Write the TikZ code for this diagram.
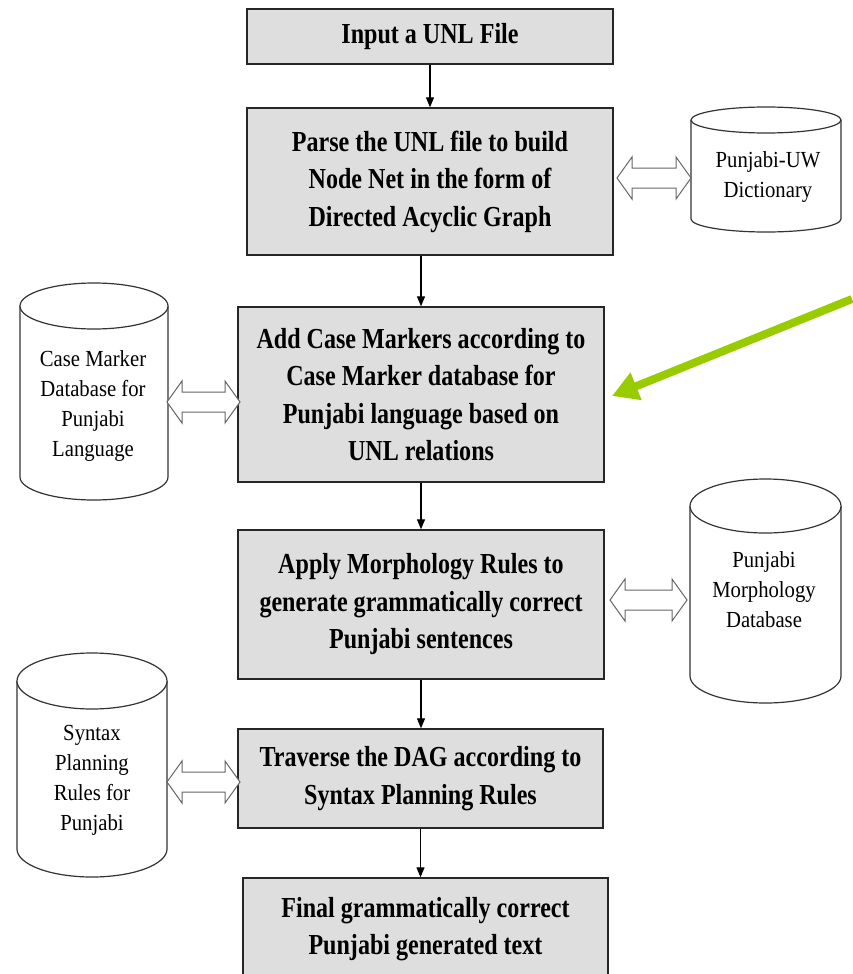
\documentclass[tikz,border=0pt]{standalone}
\usepackage{fontspec}
\setmainfont[FakeStretch=0.83]{Liberation Serif}
\newfontfamily\cylfont[FakeStretch=0.9]{Liberation Serif}
\usetikzlibrary{arrows.meta}
\definecolor{boxgray}{HTML}{DEDEDE}
\definecolor{hintgreen}{HTML}{99CC00}
\newcommand\dblarrow[3]{%
  \draw[dbarrow] (#1,#3) -- (#1+15,#3-21) -- (#1+15,#3-10) -- (#2-15,#3-10) -- (#2-15,#3-21)
    -- (#2,#3) -- (#2-15,#3+21) -- (#2-15,#3+10) -- (#1+15,#3+10) -- (#1+15,#3+21) -- cycle;}
\newcommand\dbcyl[5]{% cx top bottom rx ry
  \fill[white] (#1-#4,#2+#5) -- (#1-#4,#3-#5) arc[start angle=180,end angle=360,x radius=#4pt,y radius=#5pt] -- (#1+#4,#2+#5) -- cycle;
  \draw[cyl] (#1-#4,#2+#5) -- (#1-#4,#3-#5) arc[start angle=180,end angle=360,x radius=#4pt,y radius=#5pt] -- (#1+#4,#2+#5);
  \filldraw[cyl,fill=white] (#1,#2+#5) ellipse[x radius=#4pt,y radius=#5pt];}
\begin{document}
\begin{tikzpicture}[x=1pt,y=-1pt,
  procbox/.style={draw=black!85, line width=1.4pt, fill=boxgray, align=center, inner sep=0pt,
    font=\bfseries\fontsize{29}{37.5}\selectfont},
  flow/.style={-{Triangle[length=10pt,width=8pt]}, line width=1.2pt},
  dbarrow/.style={draw=black!60, line width=1pt, fill=white, line join=miter},
  cyl/.style={draw=black!80, line width=1.2pt},
  cyltext/.style={align=center, inner sep=0pt, font=\cylfont\fontsize{23}{30}\selectfont},
  hint/.style={draw=hintgreen, line width=8pt, -{Triangle[length=26pt,width=28pt]}}]
\useasboundingbox (0,0) rectangle (853,974);
\fill[white] (0,0) rectangle (853,974);

% process boxes
\node[procbox, minimum width=366, minimum height=55] (b1) at (430,36.5) {Input a UNL File};
\node[procbox, minimum width=366, minimum height=147] (b2) at (430,181.5)
  {Parse the UNL file to build\\Node Net in the form of\\Directed Acyclic Graph};
\node[procbox, minimum width=366, minimum height=175] (b3) at (421,394.5)
  {Add Case Markers according to\\Case Marker database for\\Punjabi language based on\\UNL relations};
\node[procbox, minimum width=366, minimum height=149] (b4) at (421,604.5)
  {Apply Morphology Rules to\\generate grammatically correct\\Punjabi sentences};
\node[procbox, minimum width=365, minimum height=99] (b5) at (420.5,778.5)
  {Traverse the DAG according to\\Syntax Planning Rules};
\node[procbox, minimum width=365, minimum height=102] (b6) at (425.5,929)
  {Final grammatically correct\\Punjabi generated text};

% flow arrows
\draw[flow] (b1.south) -- (b2.north);
\draw[flow] (b2.south -| b3.north) -- (b3.north);
\draw[flow] (b3.south) -- (b4.north);
\draw[flow] (b4.south) -- (b4.south |- b5.north);
\draw[flow] (b5.south) -- (b5.south |- b6.north);

% databases
\dbcyl{766}{107}{232}{75}{13}
\node[cyltext] (dict) at (768,177) {Punjabi-UW\\Dictionary};
\dbcyl{94}{283}{500}{74}{23}
\node[cyltext] (casedb) at (93,406) {Case Marker\\Database for\\Punjabi\\Language};
\dbcyl{765.5}{479}{703}{75.5}{27}
\node[cyltext] (morph) at (764,590) {Punjabi\\Morphology\\Database};
\dbcyl{92}{653}{877}{75}{28}
\node[cyltext] (syntax) at (92,780) {Syntax\\Planning\\Rules for\\Punjabi};

% double arrows
\dblarrow{617}{691}{178}
\dblarrow{167}{240}{402}
\dblarrow{610}{687}{600}
\dblarrow{167}{240}{782}

% green pointer
\coordinate (g1) at (852,299);
\coordinate (g2) at (612,396);
\draw[hint] (g1) -- (g2);
\end{tikzpicture}
\end{document}
